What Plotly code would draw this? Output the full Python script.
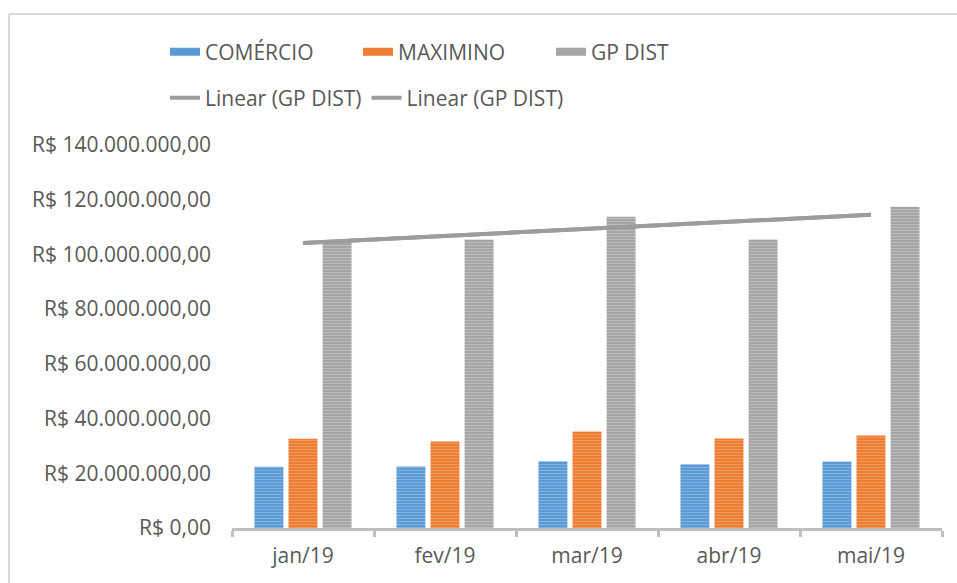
import numpy as np
import plotly.graph_objects as go

categories = ["jan/19", "fev/19", "mar/19", "abr/19", "mai/19"]
comercio = [22.4e6, 22.5e6, 24.4e6, 23.3e6, 24.3e6]
maximino = [32.6e6, 31.6e6, 35.3e6, 32.7e6, 33.8e6]
gp_dist = [104.5e6, 105.5e6, 113.8e6, 105.5e6, 117.4e6]

y_tickvals = [0, 20e6, 40e6, 60e6, 80e6, 100e6, 120e6, 140e6]
y_ticktext = ["R$ 0,00", "R$ 20.000.000,00", "R$ 40.000.000,00", "R$ 60.000.000,00",
              "R$ 80.000.000,00", "R$ 100.000.000,00", "R$ 120.000.000,00", "R$ 140.000.000,00"]

# linear trendline (least squares, as Excel does)
xi = np.arange(len(gp_dist))
slope, intercept = np.polyfit(xi, gp_dist, 1)
trend = list(intercept + slope * xi)

FONT = "Open Sans"
TXT = "#595959"
W, H = 957, 583
L, R, T, B = 232, 15, 145, 55
pw, ph = W - L - R, H - T - B

def px_x(p):
    return (p - L) / pw

def px_y(p):
    return (H - B - p) / ph

series = [
    ("COMÉRCIO", comercio, "#5B9BD5", "#A9CBEC"),
    ("MAXIMINO", maximino, "#ED7D31", "#F6BA90"),
    ("GP DIST", gp_dist, "#A5A5A5", "#D6D6D6"),
]

fig = go.Figure()
for name, vals, c, light in series:
    fig.add_trace(go.Bar(
        x=categories, y=vals, name=name, showlegend=False,
        marker=dict(color=c, line=dict(width=0),
                    pattern=dict(shape="-", bgcolor=c, fgcolor=light, size=3, solidity=0.35)),
    ))

for i in range(2):
    fig.add_trace(go.Scatter(
        x=categories, y=trend, mode="lines", name="Linear (GP DIST)",
        line=dict(color="#9C9C9C", width=4), legend="legend2",
    ))

for name, vals, c, light in series:
    fig.add_trace(go.Scatter(
        x=[None], y=[None], mode="lines", name=name,
        line=dict(color=c, width=8), legend="legend",
    ))

legend_common = dict(orientation="h", xanchor="left", yanchor="middle",
                      font=dict(family=FONT, size=21, color=TXT),
                      bgcolor="rgba(0,0,0,0)", tracegroupgap=0, itemclick=False)

fig.update_layout(
    width=W, height=H,
    margin=dict(l=L, r=R, t=T, b=B, autoexpand=False),
    paper_bgcolor="white", plot_bgcolor="white",
    barmode="group", bargap=0.28, bargroupgap=0.15,
    font=dict(family=FONT, size=21, color=TXT),
    legend=dict(x=px_x(165), y=px_y(52), entrywidth=148, entrywidthmode="pixels",
                **legend_common),
    legend2=dict(x=px_x(165), y=px_y(98), **legend_common),
    xaxis=dict(showgrid=False, showline=True, linecolor="#BFBFBF", linewidth=3,
               ticks="outside", tickson="boundaries", ticklen=6, tickwidth=3,
               tickcolor="#BFBFBF", ticklabelstandoff=7,
               tickfont=dict(family=FONT, size=21, color=TXT),
               zeroline=False, fixedrange=True),
    yaxis=dict(range=[0, 140e6], tickvals=y_tickvals, ticktext=y_ticktext,
               showgrid=False, showline=False, zeroline=False, ticks="",
               ticklabelstandoff=20,
               tickfont=dict(family=FONT, size=21, color=TXT), fixedrange=True),
    shapes=[
        dict(type="line", xref="paper", yref="paper", x0=px_x(9), x1=px_x(W),
             y0=px_y(14), y1=px_y(14), line=dict(color="#D9D9D9", width=2)),
        dict(type="line", xref="paper", yref="paper", x0=px_x(9), x1=px_x(9),
             y0=px_y(14), y1=px_y(H), line=dict(color="#D9D9D9", width=2)),
    ],
)

fig.write_html("out.html", config={"displayModeBar": False},
               post_script="document.body.style.margin='0';document.body.style.overflow='hidden';")
